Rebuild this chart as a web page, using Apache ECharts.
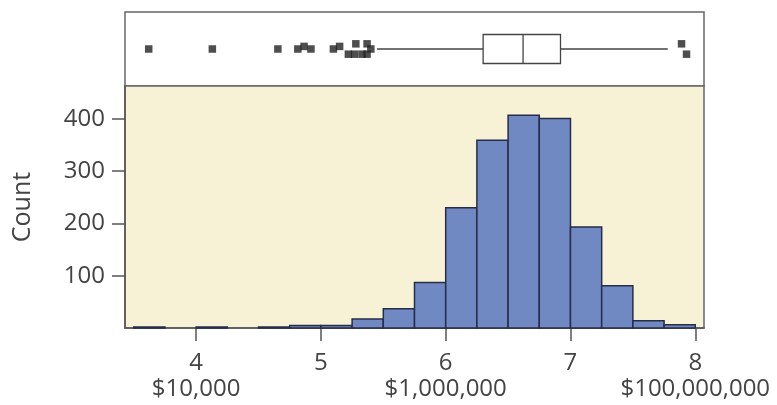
<!DOCTYPE html>
<html>
<head>
<meta charset="utf-8">
<script src="https://cdn.jsdelivr.net/npm/echarts@6/dist/echarts.min.js"></script>
<style>
html,body{margin:0;padding:0;background:#fff;}
#c{width:777px;height:405px;}
</style>
</head>
<body>
<div id="c"></div>
<script>
// ---- data (log10 of value) ----
const binStarts = [3.5, 3.75, 4.0, 4.25, 4.5, 4.75, 5.0, 5.25, 5.5, 5.75, 6.0, 6.25, 6.5, 6.75, 7.0, 7.25, 7.5, 7.75];
const binWidth = 0.25;
const counts = [2, 0, 2, 0, 2, 5, 5, 17, 37, 87, 230, 359, 407, 401, 193, 81, 14, 6];

const boxStats = [5.45, 6.30, 6.62, 6.92, 7.78]; // whiskerLow, Q1, median, Q3, whiskerHigh
const outlierValues = [3.62, 4.13, 4.655, 4.815, 4.865, 4.92, 5.10, 5.15, 5.22, 5.27, 5.28, 5.33, 5.37, 5.40, 5.37, 7.89, 7.93];
const outlierStack = [0, 0, 0, 0, 0.5, 0, 0, 0.5, -1, -1, 1, -1, 1, 0, -1, 1, -1];

const xTicks = [4, 5, 6, 7, 8];
const xTickDollars = {4: '$10,000', 6: '$1,000,000', 8: '$100,000,000'};
const yTicks = [100, 200, 300, 400];
const yName = 'Count';

// ---- chart ----
const xMin = 3.43, xMax = 8.07;
const textColor = '#444444';
const fontFamily = '"Open Sans", sans-serif';

const histData = binStarts.map((s, i) => [s, s + binWidth, counts[i]]).filter(d => d[2] > 0);
const outlierData = outlierValues.map((v, i) => [v, 0.5 + outlierStack[i] * 0.07]);

const chart = echarts.init(document.getElementById('c'), null, {renderer: 'canvas'});
chart.setOption({
  animation: false,
  backgroundColor: '#ffffff',
  textStyle: {fontFamily: fontFamily},
  grid: [
    {left: 125, right: 73, top: 12, height: 74, show: true, backgroundColor: '#ffffff', borderColor: '#666', borderWidth: 1.5},
    {left: 125, right: 73, top: 86, height: 242, show: true, backgroundColor: '#f7f2d6', borderColor: '#666', borderWidth: 1.5}
  ],
  xAxis: [
    {gridIndex: 0, type: 'value', min: xMin, max: xMax, show: false},
    {gridIndex: 1, type: 'value', min: xMin, max: xMax,
     splitLine: {show: false},
     axisLine: {show: true, lineStyle: {color: '#555', width: 1.5}},
     axisTick: {show: true, length: 13, customValues: xTicks, lineStyle: {color: '#555', width: 1.5}},
     axisLabel: {show: true, margin: 22, customValues: xTicks, color: textColor, fontSize: 24, lineHeight: 26,
       fontFamily: fontFamily,
       formatter: function (v) { return xTickDollars[v] ? (v + '\n' + xTickDollars[v]) : String(v); }}
    }
  ],
  yAxis: [
    {gridIndex: 0, type: 'value', min: 0, max: 1, show: false},
    {gridIndex: 1, type: 'value', min: 0, max: 463,
     name: yName, nameLocation: 'middle', nameGap: 90,
     nameTextStyle: {color: textColor, fontSize: 25, fontFamily: fontFamily},
     splitLine: {show: false},
     axisLine: {show: true, lineStyle: {color: '#555', width: 1.5}},
     axisTick: {show: true, length: 13, customValues: yTicks, lineStyle: {color: '#555', width: 1.5}},
     axisLabel: {show: true, margin: 20, customValues: yTicks, color: textColor, fontSize: 24, fontFamily: fontFamily}
    }
  ],
  series: [
    {
      type: 'custom', xAxisIndex: 1, yAxisIndex: 1,
      data: histData,
      renderItem: function (params, api) {
        const p0 = api.coord([api.value(0), api.value(2)]);
        const p1 = api.coord([api.value(1), 0]);
        return {
          type: 'rect',
          shape: {x: p0[0], y: p0[1], width: p1[0] - p0[0], height: p1[1] - p0[1]},
          style: {fill: '#7189c3', stroke: '#262d48', lineWidth: 1.5}
        };
      }
    },
    {
      type: 'custom', xAxisIndex: 0, yAxisIndex: 0,
      data: [boxStats],
      renderItem: function (params, api) {
        const lo = api.coord([api.value(0), 0.5]);
        const q1 = api.coord([api.value(1), 0.5]);
        const md = api.coord([api.value(2), 0.5]);
        const q3 = api.coord([api.value(3), 0.5]);
        const hi = api.coord([api.value(4), 0.5]);
        const h = 14.5;
        const ls = {stroke: '#444', lineWidth: 1.3, fill: null};
        return {
          type: 'group',
          children: [
            {type: 'line', shape: {x1: lo[0], y1: lo[1], x2: q1[0], y2: q1[1]}, style: ls},
            {type: 'line', shape: {x1: q3[0], y1: q3[1], x2: hi[0], y2: hi[1]}, style: ls},
            {type: 'rect', shape: {x: q1[0], y: q1[1] - h, width: q3[0] - q1[0], height: 2 * h}, style: {stroke: '#444', lineWidth: 1.3, fill: '#fff'}},
            {type: 'line', shape: {x1: md[0], y1: md[1] - h, x2: md[0], y2: md[1] + h}, style: ls}
          ]
        };
      }
    },
    {
      type: 'scatter', xAxisIndex: 0, yAxisIndex: 0,
      data: outlierData,
      symbol: 'rect', symbolSize: 7.5,
      itemStyle: {color: '#222'}
    }
  ]
});
</script>
</body>
</html>
